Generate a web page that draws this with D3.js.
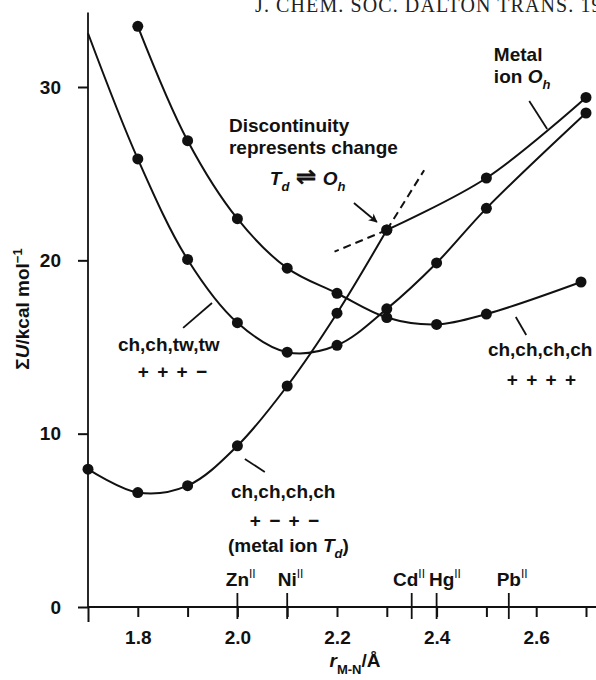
<!DOCTYPE html>
<html>
<head>
<meta charset="utf-8">
<script src="https://cdn.jsdelivr.net/npm/d3@7/dist/d3.min.js"></script>
<style>
	body { margin:0; background:#fff; }
	svg { display:block; font-family:'Liberation Sans', Arial, sans-serif; }
	.dal-line { fill:none; stroke:#111; stroke-width:2; }
	.dal-dash { fill:none; stroke:#111; stroke-width:2; stroke-dasharray:8 5; }
	.dal-dot { fill:#111; }
	.dal-tick line { stroke:#111; stroke-width:2; }
	.dal-tick text { font-size:19px; font-weight:bold; fill:#111; font-family:'Liberation Sans', Arial, sans-serif; }
	.dal-label { font-size:19px; font-weight:bold; fill:#111; }
	.dal-leader { stroke:#111; stroke-width:1.8; }
	.dal-header { font-family:'Liberation Serif', 'Times New Roman', serif; font-size:20px; fill:#222; }
</style>
</head>
<body>
<svg id="chart" width="596" height="680"></svg>
<script>

// ch,ch,tw,tw  + + + -
var aRadiiTwTw = [1.7, 1.8, 1.9, 2.0, 2.1, 2.2, 2.3, 2.4, 2.5, 2.7];
var aEnergyTwTw = [33.1, 25.85, 20.05, 16.4, 14.7, 15.1, 17.2, 19.85, 23.0, 28.5];

// ch,ch,ch,ch  + + + +
var aRadiiChPlus = [1.8, 1.9, 2.0, 2.1, 2.2, 2.3, 2.4, 2.5, 2.69];
var aEnergyChPlus = [33.5, 26.9, 22.4, 19.55, 18.1, 16.7, 16.3, 16.9, 18.75];

// ch,ch,ch,ch  + - + -  (metal ion Td)
var aRadiiTd = [1.7, 1.8, 1.9, 2.0, 2.1, 2.2, 2.3];
var aEnergyTd = [7.95, 6.6, 7.0, 9.3, 12.75, 16.95, 21.75];

// metal ion Oh
var aRadiiOh = [2.3, 2.5, 2.7];
var aEnergyOh = [21.75, 24.75, 29.4];

// dashed continuations at the discontinuity
var aRadiiTdDash = [2.3, 2.375];
var aEnergyTdDash = [21.75, 25.2];
var aRadiiOhDash = [2.3, 2.195];
var aEnergyOhDash = [21.75, 20.5];

// metal ion marks on the x axis
var aMetalNames = ['Zn', 'Ni', 'Cd', 'Hg', 'Pb'];
var aMetalRadii = [2.0, 2.1, 2.35, 2.40, 2.545];

var aXTicks = [1.7, 1.8, 1.9, 2.0, 2.1, 2.2, 2.3, 2.4, 2.5, 2.6, 2.7];
var aXTickLabels = ['', '1.8', '', '2.0', '', '2.2', '', '2.4', '', '2.6', ''];
var aYTicks = [0, 10, 20, 30];


function DrawDaltonChart(vSelector)
{
	var sSvg = d3.select(vSelector);
	const strPrefix = 'dal-';

	sSvg.append('rect').attr('width', 596).attr('height', 680).attr('fill', '#fff');

	var x = d3.scaleLinear().domain([1.7, 2.7]).range([88, 586]);
	var y = d3.scaleLinear().domain([0, 30]).range([607, 87]);

	var sDefs = sSvg.append('defs');
	sDefs.append('marker')
		.attr('id', 'arrowhead')
		.attr('viewBox', '0 0 10 10')
		.attr('refX', '9')
		.attr('refY', '5')
		.attr('markerWidth', '5')
		.attr('markerHeight', '5')
		.attr('orient', 'auto')
		.append('path')
			.attr('d', 'M 0 0 L 10 5 L 0 10 L 3 5 z')
			.attr('fill', '#111');

	// header, cut at the top edge as in the scan
	sSvg.append('text')
		.attr('class', strPrefix+'header')
		.attr('x', 255)
		.attr('y', 12)
		.attr('letter-spacing', '1.1')
		.text('J. CHEM. SOC. DALTON TRANS. 1991');

	// axes
	var sXAxis = sSvg.append('g')
		.attr('class', strPrefix+'tick')
		.attr('transform', 'translate(0,' + y(0) + ')')
		.call(d3.axisBottom(x)
			.tickValues(aXTicks)
			.tickSize(10)
			.tickPadding(14)
			.tickFormat(function(d, i) { return aXTickLabels[i]; }));
	sXAxis.select('.domain').remove();
	sXAxis.selectAll('.tick line').filter(function(d) { return d == 1.7; }).attr('y2', 15);

	var sYAxis = sSvg.append('g')
		.attr('class', strPrefix+'tick')
		.attr('transform', 'translate(' + x(1.7) + ',0)')
		.call(d3.axisLeft(y)
			.tickValues(aYTicks)
			.tickSize(10)
			.tickPadding(17));
	sYAxis.select('.domain').remove();

	sSvg.append('line')
		.attr('class', strPrefix+'leader')
		.attr('stroke-width', 2)
		.attr('x1', x(1.7)).attr('x2', 596)
		.attr('y1', y(0)).attr('y2', y(0));
	sSvg.append('line')
		.attr('class', strPrefix+'leader')
		.attr('stroke-width', 2.2)
		.attr('x1', x(1.7)).attr('x2', x(1.7))
		.attr('y1', y(0)).attr('y2', y(34.3));

	// metal ion marks, the symbol is centred on its mark
	var oLabelNudge = { Cd: -6, Hg: 5 };
	var aMetals = d3.zip(aMetalNames, aMetalRadii);
	var sMetals = sSvg.selectAll('.'+strPrefix+'metal')
		.data(aMetals)
		.enter()
			.append('g')
				.attr('class', strPrefix+'metal')
				.attr('transform', function(d) { return 'translate(' + x(d[1]) + ',' + y(0) + ')'; });
	sMetals.append('line')
		.attr('class', strPrefix+'leader')
		.attr('stroke-width', 2)
		.attr('y1', -14).attr('y2', 12);
	sMetals.each(function(d)
	{
		var sText = d3.select(this).append('text')
			.attr('class', strPrefix+'label')
			.attr('y', -21);
		var sName = sText.append('tspan').text(d[0]);
		sText.append('tspan').attr('font-size', '12px').attr('font-weight', 'normal').attr('dy', -8).text('II');
		var fW = sName.node().getComputedTextLength();
		sText.attr('x', -fW / 2 + (oLabelNudge[d[0]] || 0));
	});

	// curves
	var fnLine = d3.line()
		.x(function(d) { return x(d[0]); })
		.y(function(d) { return y(d[1]); })
		.curve(d3.curveCatmullRom.alpha(0.5));

	var aCurves = [
		{ pts: d3.zip(aRadiiTwTw, aEnergyTwTw), dots: 1, dash: false },
		{ pts: d3.zip(aRadiiChPlus, aEnergyChPlus), dots: 0, dash: false },
		{ pts: d3.zip(aRadiiTd, aEnergyTd), dots: 0, dash: false },
		{ pts: d3.zip(aRadiiOh, aEnergyOh), dots: 0, dash: false },
		{ pts: d3.zip(aRadiiTdDash, aEnergyTdDash), dots: 99, dash: true },
		{ pts: d3.zip(aRadiiOhDash, aEnergyOhDash), dots: 99, dash: true }
	];

	aCurves.forEach(function(curve)
	{
		sSvg.append('path')
			.attr('class', curve.dash ? strPrefix+'dash' : strPrefix+'line')
			.attr('d', fnLine(curve.pts));

		sSvg.selectAll(null)
			.data(curve.pts.slice(curve.dots))
			.enter()
				.append('circle')
					.attr('class', strPrefix+'dot')
					.attr('cx', function(d) { return x(d[0]); })
					.attr('cy', function(d) { return y(d[1]); })
					.attr('r', 5.5);
	});

	// rich text helper: parts are {t, it, sub, size}
	function AddText(fX, fY, aParts, strSpacing)
	{
		var sText = sSvg.append('text')
			.attr('class', strPrefix+'label')
			.attr('x', x(fX))
			.attr('y', y(fY));
		if (strSpacing) sText.attr('letter-spacing', strSpacing);
		var fShift = 0;
		aParts.forEach(function(part)
		{
			var fNewShift = part.sub ? 6 : 0;
			var sSpan = sText.append('tspan').text(part.t);
			if (fNewShift != fShift)
			{
				sSpan.attr('dy', fNewShift - fShift);
				fShift = fNewShift;
			}
			if (part.it) sSpan.attr('font-style', 'italic');
			if (part.sub) sSpan.attr('font-size', '13px');
			if (part.size) sSpan.attr('font-size', part.size);
		});
		return sText;
	}

	function AddLeader(fX1, fY1, fX2, fY2)
	{
		return sSvg.append('line')
			.attr('class', strPrefix+'leader')
			.attr('x1', x(fX1)).attr('y1', y(fY1))
			.attr('x2', x(fX2)).attr('y2', y(fY2));
	}

	// annotations
	AddText(1.983, 27.4, [{ t: 'Discontinuity' }]);
	AddText(1.983, 26.13, [{ t: 'represents change' }]);
	AddText(2.065, 24.35, [{ t: 'T', it: true }, { t: 'd', it: true, sub: true }, { t: ' \u21CC ', size: '24px' }, { t: 'O', it: true }, { t: 'h', it: true, sub: true }]);
	AddLeader(2.234, 23.31, 2.280, 22.21).attr('marker-end', 'url(#arrowhead)');

	AddText(2.515, 31.5, [{ t: 'Metal' }]);
	AddText(2.515, 30.23, [{ t: 'ion ' }, { t: 'O', it: true }, { t: 'h', it: true, sub: true }]);
	AddLeader(2.586, 29.19, 2.622, 27.58);

	AddText(1.760, 14.77, [{ t: 'ch,ch,tw,tw' }]);
	AddText(1.800, 13.21, [{ t: '+ + + \u2212' }], '1.5');
	AddLeader(1.949, 17.54, 1.891, 16.10);

	AddText(2.503, 14.48, [{ t: 'ch,ch,ch,ch' }]);
	AddText(2.541, 12.75, [{ t: '+ + + +' }], '1.5');
	AddLeader(2.559, 16.73, 2.580, 15.69);

	AddText(1.987, 6.29, [{ t: 'ch,ch,ch,ch' }]);
	AddText(2.025, 4.62, [{ t: '+ \u2212 + \u2212' }], '1.5');
	AddText(1.981, 3.17, [{ t: '(metal ion ' }, { t: 'T', it: true }, { t: 'd', it: true, sub: true }, { t: ')' }]);
	AddLeader(2.015, 8.54, 2.055, 7.79);

	// axis titles
	var sYTitle = sSvg.append('text')
		.attr('class', strPrefix+'label')
		.attr('text-anchor', 'middle')
		.attr('transform', 'translate(29,309) rotate(-90)');
	sYTitle.append('tspan').text('\u03A3');
	sYTitle.append('tspan').attr('font-style', 'italic').text('U');
	sYTitle.append('tspan').text('/kcal mol');
	sYTitle.append('tspan').attr('font-size', '13px').attr('dy', -7).text('\u22121');

	var sXTitle = sSvg.append('text')
		.attr('class', strPrefix+'label')
		.attr('text-anchor', 'middle')
		.attr('x', 355)
		.attr('y', 667);
	sXTitle.append('tspan').attr('font-style', 'italic').text('r');
	sXTitle.append('tspan').attr('font-size', '13px').attr('dy', 7).text('M-N');
	sXTitle.append('tspan').attr('dy', -7).text('/\u00C5');
}

DrawDaltonChart('#chart');

</script>
</body>
</html>
